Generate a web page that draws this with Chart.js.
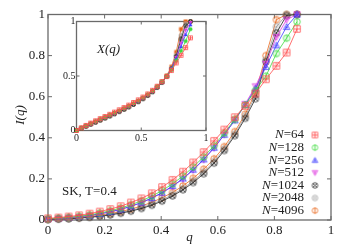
<!DOCTYPE html>
<html>
<head>
<meta charset="utf-8">
<script src="https://cdn.jsdelivr.net/npm/chart.js@4.4.1/dist/chart.umd.min.js"></script>
<style>
    body { margin: 0; background: #fff; }
    #wrap { position: relative; width: 353px; height: 247px; }
    #wrap canvas { position: absolute; left: 0; top: 0; }
</style>
</head>
<body>
<div id="wrap">
    <canvas id="mainChart" width="353" height="247"></canvas>
    <canvas id="insetChart" width="353" height="247"></canvas>
</div>
<script>
// q grid shared by all sizes
const qValues = [0, 0.037, 0.073, 0.11, 0.147, 0.183, 0.22, 0.257, 0.293, 0.33, 0.367, 0.403, 0.44,
    0.477, 0.513, 0.55, 0.587, 0.623, 0.66, 0.697, 0.733, 0.77, 0.807, 0.843, 0.88];

const sizeLabels = ['64', '128', '256', '512', '1024', '2048', '4096'];
const seriesColors = ['#ff4d4d', '#3ddc3d', '#3c3cff', '#e03ce0', '#222222', '#9a9a9a', '#e8661a'];
const markerKinds = ['boxplus', 'circbar', 'triplus', 'invtri', 'circx', 'circdot', 'circbar'];

// main panel I(q)
const iN64 = [0.008, 0.012, 0.017, 0.023, 0.031, 0.041, 0.053, 0.067, 0.085, 0.105, 0.13, 0.16, 0.195,
    0.235, 0.28, 0.33, 0.385, 0.44, 0.5, 0.555, 0.615, 0.685, 0.75, 0.815, 0.93];
const iN128 = [0.006, 0.009, 0.013, 0.018, 0.025, 0.034, 0.045, 0.058, 0.074, 0.093, 0.116, 0.143, 0.176,
    0.214, 0.258, 0.307, 0.362, 0.423, 0.49, 0.56, 0.63, 0.7, 0.81, 0.885, 0.965];
const iN256 = [0.005, 0.008, 0.012, 0.016, 0.022, 0.03, 0.04, 0.052, 0.067, 0.085, 0.107, 0.133, 0.165,
    0.202, 0.245, 0.295, 0.352, 0.415, 0.485, 0.56, 0.64, 0.745, 0.85, 0.94, 1.0];
const iN512 = [0.005, 0.007, 0.011, 0.015, 0.021, 0.029, 0.039, 0.051, 0.066, 0.084, 0.106, 0.132, 0.163,
    0.2, 0.243, 0.293, 0.35, 0.415, 0.487, 0.565, 0.65, 0.76, 0.89, 0.975, 1.0];
const iN1024 = [0.002, 0.004, 0.006, 0.009, 0.013, 0.018, 0.025, 0.033, 0.043, 0.056, 0.072, 0.092, 0.117,
    0.147, 0.182, 0.225, 0.277, 0.338, 0.41, 0.495, 0.59, 0.77, 0.91, 0.995, 1.0];
const iN2048 = [0.003, 0.005, 0.007, 0.01, 0.014, 0.02, 0.027, 0.036, 0.047, 0.06, 0.077, 0.098, 0.123,
    0.153, 0.19, 0.233, 0.285, 0.345, 0.418, 0.505, 0.605, 0.78, 0.94, 1.0, 1.0];
const iN4096 = [0.004, 0.006, 0.009, 0.012, 0.017, 0.023, 0.031, 0.041, 0.053, 0.068, 0.086, 0.108, 0.134,
    0.166, 0.203, 0.247, 0.298, 0.357, 0.43, 0.515, 0.62, 0.8, 0.975, 1.0, 1.0];

// inset X(q)
const xN64 = [0.0, 0.025, 0.047, 0.068, 0.089, 0.109, 0.129, 0.149, 0.169, 0.19, 0.211, 0.233, 0.257,
    0.281, 0.307, 0.336, 0.369, 0.406, 0.448, 0.495, 0.55, 0.62, 0.69, 0.76, 0.85];
const xN128 = [0.0, 0.023, 0.044, 0.064, 0.084, 0.104, 0.124, 0.144, 0.164, 0.184, 0.205, 0.227, 0.25,
    0.275, 0.302, 0.332, 0.366, 0.405, 0.449, 0.498, 0.555, 0.64, 0.73, 0.82, 0.93];
const xN256 = [0.0, 0.022, 0.042, 0.062, 0.082, 0.101, 0.121, 0.141, 0.161, 0.181, 0.202, 0.224, 0.247,
    0.272, 0.299, 0.329, 0.363, 0.402, 0.447, 0.498, 0.56, 0.66, 0.77, 0.88, 0.97];
const xN512 = [0.0, 0.021, 0.041, 0.061, 0.08, 0.1, 0.12, 0.14, 0.16, 0.18, 0.201, 0.223, 0.246,
    0.271, 0.298, 0.328, 0.362, 0.401, 0.446, 0.499, 0.565, 0.67, 0.8, 0.92, 0.99];
const xN1024 = [0.0, 0.019, 0.038, 0.057, 0.076, 0.095, 0.114, 0.133, 0.153, 0.173, 0.194, 0.216, 0.239,
    0.264, 0.291, 0.321, 0.355, 0.394, 0.44, 0.495, 0.565, 0.68, 0.84, 0.96, 1.0];
const xN2048 = [0.0, 0.02, 0.039, 0.058, 0.077, 0.096, 0.115, 0.134, 0.154, 0.174, 0.195, 0.217, 0.24,
    0.265, 0.292, 0.322, 0.356, 0.395, 0.441, 0.497, 0.57, 0.69, 0.87, 0.98, 1.0];
const xN4096 = [0.0, 0.021, 0.041, 0.06, 0.079, 0.098, 0.117, 0.137, 0.157, 0.177, 0.198, 0.22, 0.243,
    0.268, 0.295, 0.325, 0.36, 0.4, 0.448, 0.505, 0.585, 0.72, 0.93, 1.0, 1.0];

const mainTicks = [0, 0.2, 0.4, 0.6, 0.8, 1];
const mainTickLabels = ['0', '0.2', '0.4', '0.6', '0.8', '1'];
const insetTicks = [0, 0.5, 1];
const insetTickLabels = ['0', '0.5', '1'];

const mainSeries = [iN64, iN128, iN256, iN512, iN1024, iN2048, iN4096];
const insetSeries = [xN64, xN128, xN256, xN512, xN1024, xN2048, xN4096];

const serif = '"Liberation Serif", "DejaVu Serif", serif';

// draws gnuplot-like open markers into a small canvas
function makeMarker(kind, color, size, filled, lw) {
    const c = document.createElement('canvas');
    const s = Math.ceil(size + 3);
    c.width = s;
    c.height = s;
    const ctx = c.getContext('2d');
    const m = s / 2, r = size / 2;
    ctx.strokeStyle = color;
    ctx.fillStyle = color;
    ctx.lineWidth = lw || 0.8;
    ctx.beginPath();
    if (kind === 'boxplus') {
        ctx.rect(m - r, m - r, size, size);
        if (!filled) {
            ctx.moveTo(m, m - r); ctx.lineTo(m, m + r);
            ctx.moveTo(m - r, m); ctx.lineTo(m + r, m);
        }
    } else if (kind === 'triplus' || kind === 'invtri') {
        const d = kind === 'invtri' ? -1 : 1;
        ctx.moveTo(m, m - d * r);
        ctx.lineTo(m + r, m + d * r * 0.8);
        ctx.lineTo(m - r, m + d * r * 0.8);
        ctx.closePath();
        if (!filled) {
            ctx.moveTo(m, m - d * r * 0.4); ctx.lineTo(m, m + d * r * 0.6);
            ctx.moveTo(m - r * 0.4, m + d * r * 0.2); ctx.lineTo(m + r * 0.4, m + d * r * 0.2);
        }
    } else {
        ctx.arc(m, m, r, 0, Math.PI * 2);
        if (!filled) {
            if (kind === 'circbar') {
                ctx.moveTo(m, m - r); ctx.lineTo(m, m + r);
            } else if (kind === 'circx') {
                const k = r * 0.7;
                ctx.moveTo(m - k, m - k); ctx.lineTo(m + k, m + k);
                ctx.moveTo(m + k, m - k); ctx.lineTo(m - k, m + k);
            } else if (kind === 'circdot') {
                ctx.moveTo(m + 1, m); ctx.arc(m, m, 1, 0, Math.PI * 2);
            }
        }
    }
    if (filled) ctx.fill(); else ctx.stroke();
    return c;
}

function toPoints(values) {
    return values.map((v, i) => ({ x: qValues[i], y: v }));
}

function drawFrame(chart, ticks, tickLen) {
    const { ctx, chartArea: a, scales: { x, y } } = chart;
    ctx.save();
    ctx.strokeStyle = '#6a6a6a';
    ctx.lineWidth = 1.3;
    ctx.strokeRect(a.left, a.top, a.right - a.left, a.bottom - a.top);
    ctx.lineWidth = 1;
    ctx.beginPath();
    ticks.forEach(t => {
        const px = x.getPixelForValue(t);
        const py = y.getPixelForValue(t);
        ctx.moveTo(px, a.bottom); ctx.lineTo(px, a.bottom - tickLen);
        ctx.moveTo(px, a.top); ctx.lineTo(px, a.top + tickLen);
        ctx.moveTo(a.left, py); ctx.lineTo(a.left + tickLen, py);
        ctx.moveTo(a.right, py); ctx.lineTo(a.right - tickLen, py);
    });
    ctx.stroke();
    ctx.restore();
}

const legendMarkers = seriesColors.map((col, i) => makeMarker(markerKinds[i], col, 5.5, false, 0.8));

const mainDecor = {
    id: 'mainDecor',
    beforeDatasetsDraw(chart) {
        drawFrame(chart, mainTicks, 4);
    },
    afterDraw(chart) {
        const { ctx, chartArea: a, scales: { x, y } } = chart;
        ctx.save();
        ctx.fillStyle = '#222';
        ctx.font = `13px ${serif}`;

        // tick labels
        ctx.textAlign = 'center';
        ctx.textBaseline = 'alphabetic';
        mainTicks.forEach((t, i) => ctx.fillText(mainTickLabels[i], x.getPixelForValue(t), a.bottom + 14));
        ctx.textAlign = 'right';
        ctx.textBaseline = 'middle';
        mainTicks.forEach((t, i) => ctx.fillText(mainTickLabels[i], a.left - 3, y.getPixelForValue(t)));

        // axis titles
        ctx.font = `italic 13px ${serif}`;
        ctx.textAlign = 'center';
        ctx.textBaseline = 'alphabetic';
        ctx.fillText('q', (a.left + a.right) / 2, 241);
        ctx.save();
        ctx.translate(24, 115);
        ctx.rotate(-Math.PI / 2);
        ctx.fillText('I(q)', 0, 0);
        ctx.restore();

        // annotation
        ctx.font = `13px ${serif}`;
        ctx.textAlign = 'left';
        ctx.fillText('SK, T=0.4', 62, 195);

        // legend
        const rowY0 = 135, rowStep = 12.6, textRight = 304, markX = 315;
        sizeLabels.forEach((lab, i) => {
            const ly = rowY0 + i * rowStep;
            ctx.textBaseline = 'middle';
            ctx.font = `13px ${serif}`;
            const rest = '=' + lab;
            const wRest = ctx.measureText(rest).width;
            ctx.fillStyle = '#222';
            ctx.textAlign = 'right';
            ctx.fillText(rest, textRight, ly);
            ctx.font = `italic 13px ${serif}`;
            ctx.fillText('N', textRight - wRest, ly);
            const mk = legendMarkers[i];
            ctx.drawImage(mk, markX - mk.width / 2, ly - mk.height / 2);
        });
        ctx.restore();
    }
};

const insetDecor = {
    id: 'insetDecor',
    beforeDatasetsDraw(chart) {
        drawFrame(chart, insetTicks, 3);
    },
    afterDraw(chart) {
        const { ctx, chartArea: a, scales: { x, y } } = chart;
        ctx.save();
        ctx.fillStyle = '#222';
        ctx.font = `10px ${serif}`;
        ctx.textAlign = 'center';
        ctx.textBaseline = 'alphabetic';
        insetTicks.forEach((t, i) => ctx.fillText(insetTickLabels[i], x.getPixelForValue(t), a.bottom + 10));
        ctx.textAlign = 'right';
        ctx.textBaseline = 'middle';
        insetTicks.forEach((t, i) => ctx.fillText(insetTickLabels[i], a.left - 1, y.getPixelForValue(t)));
        ctx.font = `italic 13px ${serif}`;
        ctx.textAlign = 'left';
        ctx.fillText('X(q)', 97, 50);
        ctx.restore();
    }
};

function baseOptions(padding) {
    return {
        responsive: false,
        animation: false,
        devicePixelRatio: 1,
        layout: { padding: padding },
        scales: {
            x: { type: 'linear', min: 0, max: 1, display: false },
            y: { type: 'linear', min: 0, max: 1, display: false }
        },
        plugins: { legend: { display: false }, tooltip: { enabled: false } }
    };
}

const mainDatasets = mainSeries.map((vals, i) => ({
    label: 'N=' + sizeLabels[i],
    data: toPoints(vals),
    showLine: true,
    borderColor: seriesColors[i],
    borderWidth: 0.8,
    pointStyle: makeMarker(markerKinds[i], seriesColors[i], 6.5, false, i === 4 ? 0.7 : 0.8),
    pointRadius: 3,
    clip: false
}));

const insetKinds = ['boxplus', 'circbar', 'triplus', 'invtri', 'circx', 'circdot', 'boxplus'];
const insetFilled = [false, true, true, true, false, false, true];
const insetDatasets = insetSeries.map((vals, i) => ({
    label: 'N=' + sizeLabels[i],
    data: toPoints(vals),
    showLine: true,
    borderColor: seriesColors[i],
    borderWidth: 0.8,
    pointStyle: makeMarker(insetKinds[i], seriesColors[i], 4, insetFilled[i], 0.8),
    pointRadius: 2,
    clip: false
}));

new Chart(document.getElementById('mainChart'), {
    type: 'scatter',
    data: { datasets: mainDatasets },
    options: baseOptions({ left: 48, right: 22, top: 14.5, bottom: 27 }),
    plugins: [mainDecor]
});

new Chart(document.getElementById('insetChart'), {
    type: 'scatter',
    data: { datasets: insetDatasets },
    options: baseOptions({ left: 76.5, right: 147, top: 21.5, bottom: 116.5 }),
    plugins: [insetDecor]
});
</script>
</body>
</html>
